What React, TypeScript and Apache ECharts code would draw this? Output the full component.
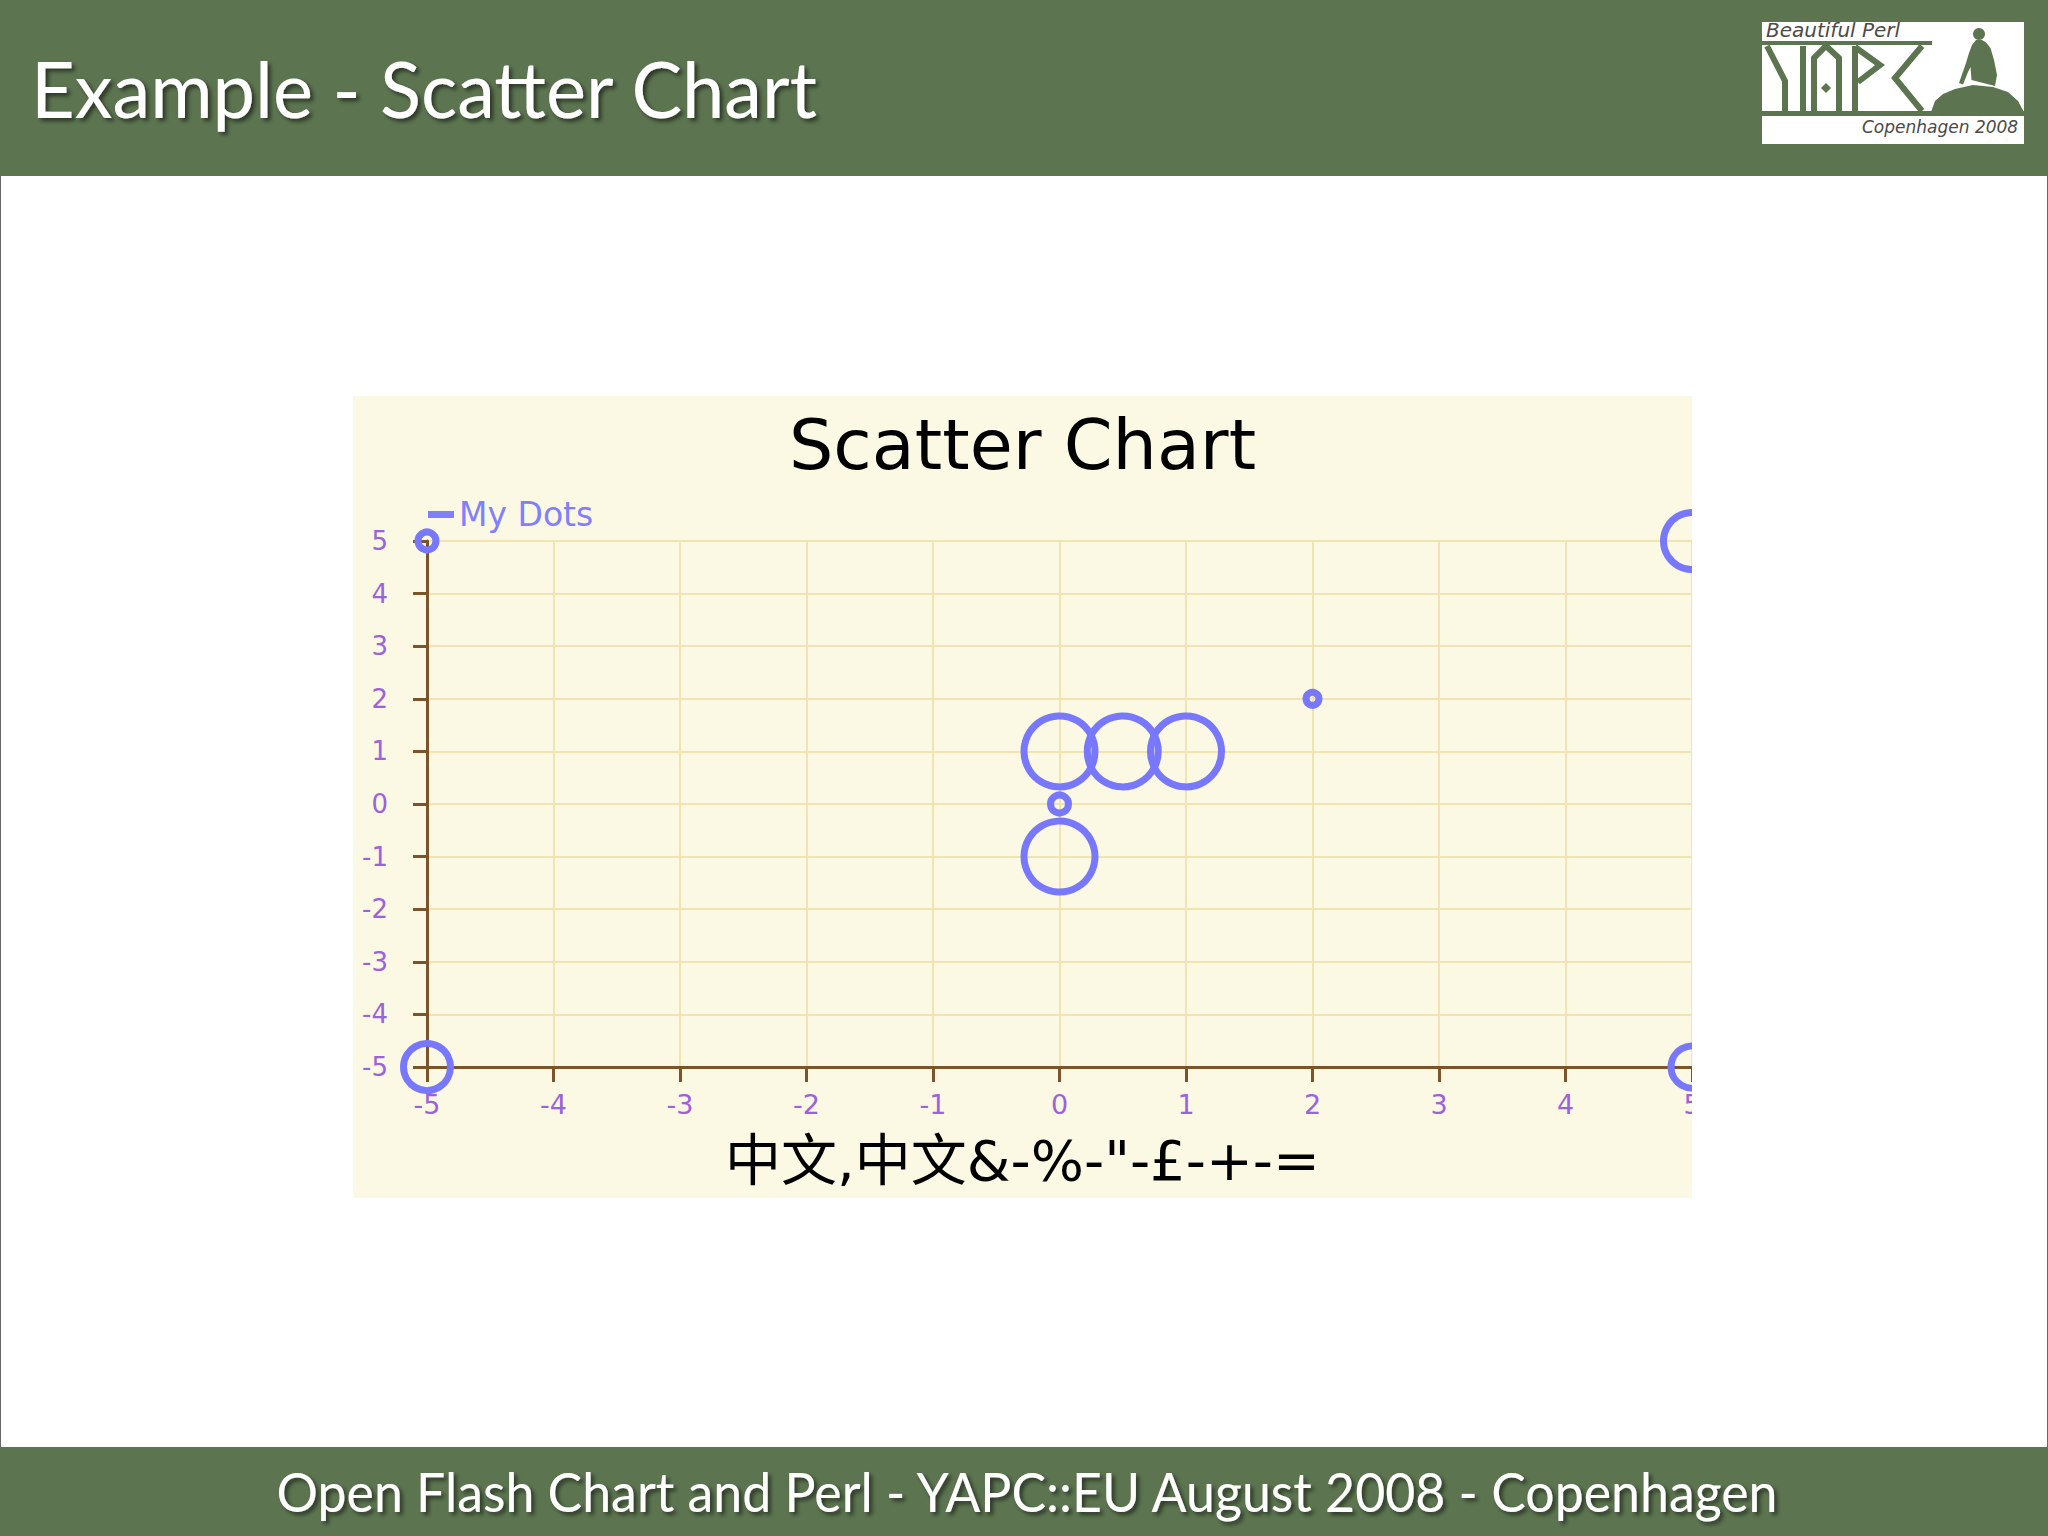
import React, { useEffect, useRef } from "react";
import * as echarts from "echarts";

// ---- data ----
const chartTitle = "Scatter Chart";
const seriesName = "My Dots";
const xAxisTitle = '中文,中文&-%-"-£-+-=';
const xValues = [-5, 5, 0, 0.5, 1, 0, 0, 2, -5, 5];
const yValues = [5, 5, 1, 1, 1, 0, -1, 2, -5, -5];
const dotSizes = [18, 57, 71, 71, 71, 18, 71, 13, 47, 42];
const axisMin = -5;
const axisMax = 5;
const axisStep = 1;
const slideTitle = "Example - Scatter Chart";
const footerText = "Open Flash Chart and Perl - YAPC::EU August 2008 - Copenhagen";
const logoTop = "Beautiful Perl";
const logoBottom = "Copenhagen 2008";

const GREEN = "#5c7550";
const VERDANA = '"DejaVu Sans", Verdana, sans-serif';
const SLIDE_FONT = 'Lato, "Open Sans", sans-serif';

function slideOption(): any {
  const shadow = {
    shadowColor: "rgba(0,0,0,0.55)",
    shadowBlur: 4,
    shadowOffsetX: 3,
    shadowOffsetY: 3,
    textShadowColor: "rgba(0,0,0,0.55)",
    textShadowBlur: 4,
    textShadowOffsetX: 3,
    textShadowOffsetY: 3,
  };
  const stroke = { stroke: GREEN, lineWidth: 6, fill: "none", lineJoin: "miter" };
  return {
    animation: false,
    graphic: [
      { type: "rect", shape: { x: 0, y: 0, width: 2048, height: 1536 }, style: { fill: "#ffffff", stroke: "#666", lineWidth: 2 } },
      { type: "rect", shape: { x: 0, y: 0, width: 2048, height: 176 }, style: { fill: GREEN } },
      { type: "rect", shape: { x: 0, y: 1447, width: 2048, height: 89 }, style: { fill: GREEN } },
      {
        type: "text",
        x: 31,
        y: 88,
        scaleX: 0.985,
        style: {
          text: slideTitle,
          fill: "#ffffff",
          fontSize: 77,
          fontFamily: SLIDE_FONT,
          align: "left",
          verticalAlign: "middle",
          textAlign: "left",
          textVerticalAlign: "middle",
          ...shadow,
        },
      },
      {
        type: "text",
        x: 1027,
        y: 1491,
        scaleX: 0.96,
        style: {
          text: footerText,
          fill: "#ffffff",
          fontSize: 54,
          fontFamily: SLIDE_FONT,
          align: "center",
          verticalAlign: "middle",
          textAlign: "center",
          textVerticalAlign: "middle",
          ...shadow,
        },
      },
      // logo
      { type: "rect", shape: { x: 1762, y: 22, width: 262, height: 122 }, style: { fill: "#ffffff" } },
      { type: "rect", shape: { x: 1762, y: 41, width: 170, height: 4 }, style: { fill: GREEN } },
      { type: "rect", shape: { x: 1762, y: 111, width: 262, height: 5 }, style: { fill: GREEN } },
      { type: "polyline", shape: { points: [[1767, 46], [1785, 81], [1785, 111]] }, style: stroke },
      { type: "polyline", shape: { points: [[1803, 46], [1803, 111]] }, style: stroke },
      { type: "polyline", shape: { points: [[1814, 111], [1814, 58], [1826, 46], [1839, 58], [1839, 111]] }, style: stroke },
      { type: "polygon", shape: { points: [[1826, 83], [1831, 88], [1826, 93], [1821, 88]] }, style: { fill: GREEN } },
      { type: "polyline", shape: { points: [[1855, 46], [1855, 111]] }, style: stroke },
      { type: "polyline", shape: { points: [[1855, 47], [1880, 65], [1858, 82]] }, style: stroke },
      { type: "polyline", shape: { points: [[1922, 46], [1895, 78], [1922, 111]] }, style: stroke },
      {
        type: "polygon",
        shape: {
          points: [[1931, 112], [1935, 101], [1943, 94], [1955, 89], [1973, 85], [1993, 87], [2008, 92], [2018, 101], [2024, 112]],
        },
        style: { fill: GREEN },
      },
      {
        type: "polygon",
        shape: {
          points: [
            [1976, 40], [1972, 45], [1969, 53], [1966, 63], [1962.5, 73], [1959, 83], [1963, 84.5], [1968, 72],
            [1970.5, 67], [1971.5, 80], [1995, 86], [1997, 75], [1994, 60], [1990.5, 48], [1986, 42.5], [1982, 40],
          ],
        },
        style: { fill: GREEN },
      },
      { type: "circle", shape: { cx: 1979, cy: 34, r: 6 }, style: { fill: GREEN } },
      {
        type: "text",
        x: 1766,
        y: 30,
        style: {
          text: logoTop,
          fill: "#4a4a4a",
          fontSize: 20,
          fontStyle: "italic",
          fontFamily: VERDANA,
          align: "left",
          verticalAlign: "middle",
          textAlign: "left",
          textVerticalAlign: "middle",
        },
      },
      {
        type: "text",
        x: 1862,
        y: 127,
        style: {
          text: logoBottom,
          fill: "#4a4a4a",
          fontSize: 17,
          fontStyle: "italic",
          fontFamily: VERDANA,
          align: "left",
          verticalAlign: "middle",
          textAlign: "left",
          textVerticalAlign: "middle",
        },
      },
    ],
  };
}

function chartOption(): any {
  const axisColor = "#7d5429";
  const labelColor = "#9c62dc";
  const gridColor = "#f3e2b2";
  const points = xValues.map((x, i) => [x, yValues[i], dotSizes[i]]);
  const common = {
    type: "value",
    min: axisMin,
    max: axisMax,
    interval: axisStep,
    axisLine: { show: true, onZero: false, lineStyle: { color: axisColor, width: 3 } },
    splitLine: { show: true, lineStyle: { color: gridColor, width: 2 } },
  };
  return {
    animation: false,
    backgroundColor: "#fbf9e4",
    title: {
      text: chartTitle,
      left: "center",
      top: 14,
      padding: 0,
      textStyle: { fontFamily: VERDANA, fontSize: 70, fontWeight: "normal", color: "#000000", lineHeight: 70 },
    },
    legend: {
      left: 75,
      top: 102,
      padding: 0,
      itemWidth: 26,
      itemHeight: 7,
      icon: "rect",
      selectedMode: false,
      textStyle: { fontFamily: VERDANA, fontSize: 33, color: "#8080ff", lineHeight: 32 },
      data: [{ name: seriesName, icon: "rect", itemStyle: { color: "#8080ff", borderWidth: 0, borderColor: "#8080ff" } }],
    },
    grid: { left: 74, right: 0, top: 145, bottom: 131, containLabel: false, outerBoundsMode: "none" },
    xAxis: {
      ...common,
      axisTick: { show: true, length: 15, lineStyle: { color: axisColor, width: 3 } },
      axisLabel: { margin: 24, color: labelColor, fontFamily: VERDANA, fontSize: 27, hideOverlap: false },
    },
    yAxis: {
      ...common,
      axisTick: { show: true, length: 14, lineStyle: { color: axisColor, width: 3 } },
      axisLabel: { margin: 39, color: labelColor, fontFamily: VERDANA, fontSize: 26 },
    },
    graphic: [
      {
        type: "text",
        x: 669.5,
        y: 764,
        style: {
          text: xAxisTitle,
          fill: "#000000",
          fontSize: 56,
          fontFamily: '"DejaVu Sans", "Noto Sans CJK SC", sans-serif',
          align: "center",
          verticalAlign: "middle",
          textAlign: "center",
          textVerticalAlign: "middle",
        },
      },
    ],
    series: [
      {
        type: "scatter",
        name: seriesName,
        data: points,
        symbol: "circle",
        symbolSize: (v: number[]) => v[2],
        clip: false,
        itemStyle: { color: "rgba(0,0,0,0)", borderColor: "#7878ff", borderWidth: 7, opacity: 1 },
        emphasis: { disabled: true },
      },
    ],
  };
}

export default function App() {
  const slideRef = useRef<HTMLDivElement>(null);
  const chartRef = useRef<HTMLDivElement>(null);
  useEffect(() => {
    const slide = echarts.init(slideRef.current!, null, { renderer: "svg" });
    slide.setOption(slideOption());
    const chart = echarts.init(chartRef.current!, null, { renderer: "svg" });
    chart.setOption(chartOption());
    return () => {
      chart.dispose();
      slide.dispose();
    };
  }, []);
  return (
    <div style={{ position: "absolute", left: 0, top: 0, width: 2048, height: 1536, background: "#fff", overflow: "hidden" }}>
      <div ref={slideRef} style={{ position: "absolute", left: 0, top: 0, width: 2048, height: 1536 }} />
      <div ref={chartRef} style={{ position: "absolute", left: 353, top: 396, width: 1339, height: 802 }} />
    </div>
  );
}
